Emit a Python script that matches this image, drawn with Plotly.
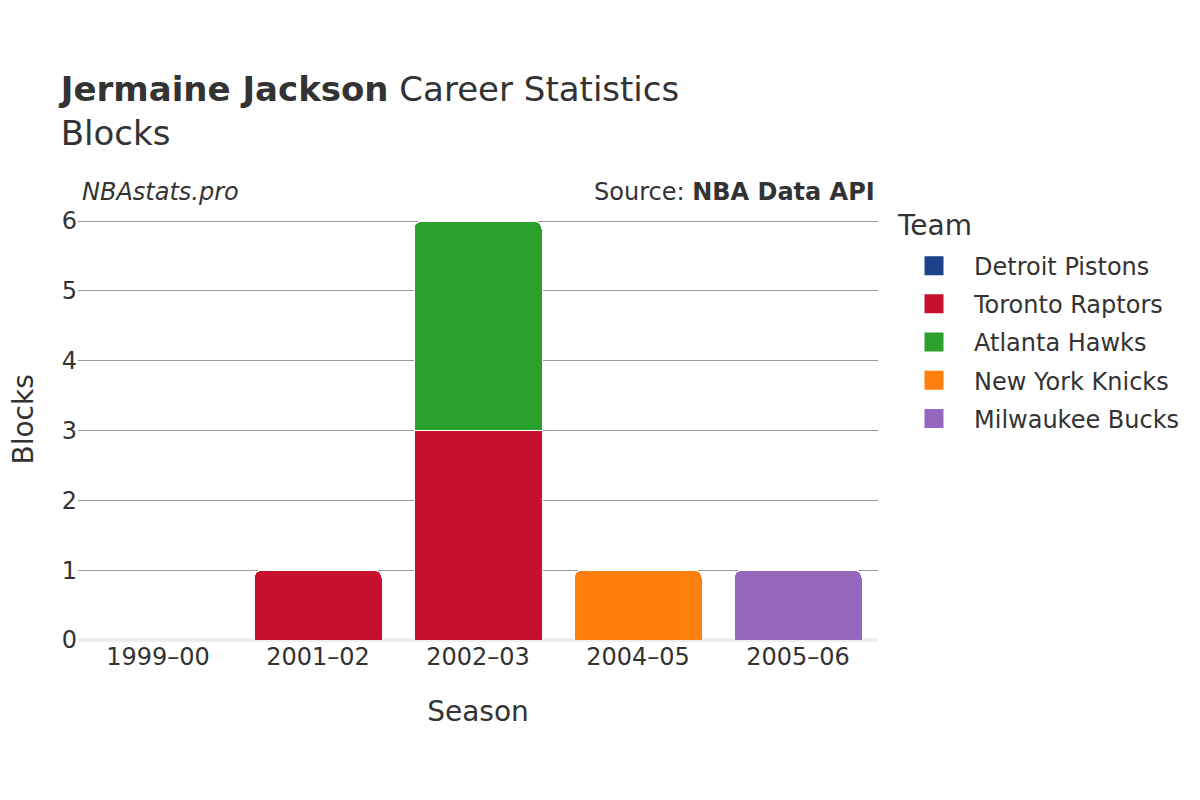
import plotly.graph_objects as go

seasons = ["1999–00", "2001–02", "2002–03", "2004–05", "2005–06"]
teams = ["Detroit Pistons", "Toronto Raptors", "Atlanta Hawks", "New York Knicks", "Milwaukee Bucks"]
colors = ["#1d428a", "#c8102e", "#2ca02c", "#ff7f0e", "#9467bd"]
team_seasons = [
    ["1999–00"],
    ["2001–02", "2002–03"],
    ["2002–03"],
    ["2004–05"],
    ["2005–06"],
]
team_blocks = [
    [0],
    [1, 3],
    [3],
    [1],
    [1],
]

fig = go.Figure()
for name, col, xs, ys in zip(teams, colors, team_seasons, team_blocks):
    fig.add_trace(go.Bar(
        x=xs, y=ys, name=name, showlegend=False, legendgroup=name,
        marker=dict(color=col, line=dict(color="white", width=1)),
    ))
# legend entries with larger square symbols
for name, col in zip(teams, colors):
    fig.add_trace(go.Scatter(
        x=[None], y=[None], mode="markers", name=name, legendgroup=name,
        marker=dict(symbol="square", size=20, color=col,
                    line=dict(color=col, width=3)),
    ))

font = "DejaVu Sans"
fig.update_layout(
    width=1200, height=800,
    barmode="stack",
    bargap=0.2,
    barcornerradius=8,
    plot_bgcolor="white", paper_bgcolor="white",
    font=dict(family=font, size=24, color="#333333"),
    margin=dict(l=70, r=330, t=191, b=168),
    title=dict(
        text="<b>Jermaine Jackson</b> Career Statistics<br>Blocks",
        x=0.044, xanchor="left", y=0.884, yanchor="top",
        font=dict(family=font, size=34, color="#333333"),
    ),
    xaxis=dict(
        title=dict(text="Season", font=dict(size=28), standoff=31),
        categoryorder="array", categoryarray=seasons,
        showgrid=False, ticks="", tickfont=dict(size=24),
        automargin=False,
    ),
    yaxis=dict(
        showgrid=True, gridcolor="#999999", gridwidth=1,
        zeroline=True, zerolinecolor="#eeeeee", zerolinewidth=4,
        tickfont=dict(size=24), ticks="", dtick=1,
        rangemode="tozero", automargin=False,
    ),
    legend=dict(
        font=dict(size=24),
        x=1.02, xanchor="left", y=0.899, yanchor="top",
        traceorder="grouped", tracegroupgap=4,
        itemsizing="trace", itemwidth=70,
    ),
    annotations=[
        dict(text="Blocks", xref="paper", yref="paper",
             x=-0.068, y=0.499, xanchor="center", yanchor="middle",
             textangle=-90, showarrow=False,
             font=dict(size=28, color="#333333")),
        dict(text="Team", xref="paper", yref="paper",
             x=1.0215, y=0.9388, xanchor="left", yanchor="middle",
             showarrow=False, font=dict(size=28, color="#333333")),
        dict(text="<i>NBAstats.pro</i>", xref="paper", yref="paper",
             x=0.003, y=0.98, xanchor="left", yanchor="bottom",
             showarrow=False, font=dict(size=24, color="#333333")),
        dict(text="Source: <b>NBA Data API</b>", xref="paper", yref="paper",
             x=0.999, y=0.98, xanchor="right", yanchor="bottom",
             showarrow=False, font=dict(size=24, color="#333333")),
    ],
)

fig.write_html("out.html")
